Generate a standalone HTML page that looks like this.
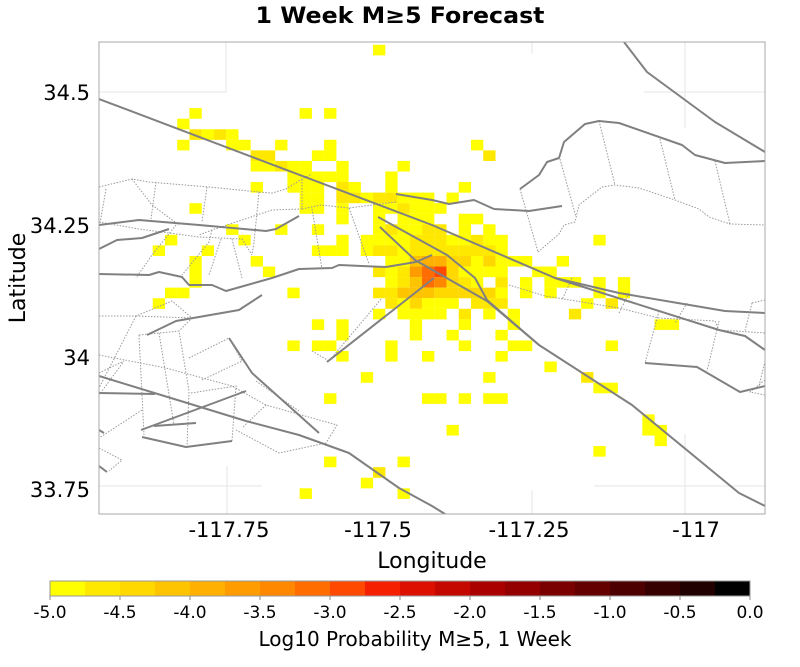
<!DOCTYPE html>
<html><head><meta charset="utf-8"><style>
body{margin:0;background:#fff;}
svg text{font-family:"DejaVu Sans","Liberation Sans",sans-serif;fill:#000;}
</style></head><body>
<svg width="800" height="662" viewBox="0 0 800 662" xmlns="http://www.w3.org/2000/svg">
<defs><clipPath id="pc"><rect x="99" y="42" width="666" height="472"/></clipPath></defs>
<text x="400" y="23" font-size="22" font-weight="bold" text-anchor="middle" textLength="289" lengthAdjust="spacingAndGlyphs">1 Week M≥5 Forecast</text>
<g stroke="#e6e6e6" stroke-width="1">
<line x1="226" y1="42" x2="226" y2="92"/><line x1="99" y1="92" x2="226" y2="92"/>
<line x1="532" y1="42" x2="532" y2="54"/><line x1="685" y1="42" x2="685" y2="128"/><line x1="644" y1="92" x2="765" y2="92"/>
<line x1="227" y1="466" x2="227" y2="514"/><line x1="99" y1="486" x2="262" y2="486"/>
<line x1="685" y1="434" x2="685" y2="514"/><line x1="594" y1="486" x2="765" y2="486"/><line x1="532" y1="490" x2="532" y2="514"/>
</g>
<g id="cells" clip-path="url(#pc)"></g>
<g clip-path="url(#pc)" fill="none">
<g stroke="#999" stroke-width="1" stroke-dasharray="1.5,1.5">
<polyline points="99,187 132,179 149,182 209,187 259,192 272,193 286,189 302,179 312,174"/>
<polyline points="132,179 152,205 179,225"/>
<polyline points="156,182 151,219"/>
<polyline points="207,187 202,222"/>
<polyline points="259,192 254,242 252,255"/>
<polyline points="302,179 302,209 321,205 349,208 396,202"/>
<polyline points="302,209 272,210 212,230 199,235"/>
<polyline points="212,230 209,242 182,275"/>
<polyline points="99,222 139,229 199,237 242,239 252,255"/>
<polyline points="349,208 369,264"/>
<polyline points="312,209 322,269"/>
<polyline points="106,189 99,229"/>
<polyline points="176,225 152,255 136,278"/>
<polyline points="221,239 209,275"/>
<polyline points="232,239 242,278"/>
<polyline points="136,316 192,318"/>
<polyline points="99,316 136,316 172,301 192,318 179,331"/>
<polyline points="136,316 99,388"/>
<polyline points="139,335 179,331 189,391 187,447"/>
<polyline points="139,335 144,435"/>
<polyline points="159,333 174,425"/>
<polyline points="99,355 166,368 232,386 266,405 337,425 326,443 279,453 236,430"/>
<polyline points="189,358 229,338 242,361 202,380"/>
<polyline points="191,393 236,386 232,441"/>
<polyline points="142,410 99,438"/>
<polyline points="99,448 122,460 109,471"/>
<polyline points="99,373 124,361 99,395"/>
<polyline points="312,351 329,361 382,298"/>
<polyline points="256,381 299,411"/>
<polyline points="266,405 242,428"/>
<polyline points="520,189 538,252"/>
<polyline points="560,159 576,217"/>
<polyline points="599,121 615,185"/>
<polyline points="660,139 675,200"/>
<polyline points="715,161 730,224"/>
<polyline points="538,252 559,234 564,225 575,222 579,205 602,187 615,185 639,188 675,200 699,209 709,217 730,224 765,225"/>
<polyline points="509,285 545,296 619,308 659,318 715,321 719,330 765,333"/>
<polyline points="572,278 562,300"/><polyline points="629,293 619,313"/>
<polyline points="659,311 645,363"/><polyline points="687,303 675,323"/>
<polyline points="719,321 707,371"/><polyline points="752,303 765,300"/><polyline points="752,303 745,331"/>
<polyline points="765,361 759,386"/><polyline points="765,380 750,392 765,395"/>
</g>
<g stroke="#808080" stroke-width="2" stroke-linejoin="round">
<polyline points="99,99 432,225 555,278 619,293 725,311 765,313"/>
<polyline points="555,278 719,330 745,336 765,350"/>
<polyline points="396,194 432,200 449,204 474,200 494,209 529,211 562,206"/>
<polyline points="378,217 447,255 475,278 487,300 539,345"/>
<polyline points="380,227 415,260 487,301 539,345 632,405 739,493 765,506"/>
<polyline points="434,278 327,362"/>
<polyline points="624,42 647,72 715,122 765,152"/>
<polyline points="520,189 539,175 547,162 559,158 564,142 585,124 599,121 619,123 682,145 695,155 725,163 765,161"/>
<polyline points="645,363 697,367 740,392 765,386"/>
<polyline points="99,225 139,220 199,225 266,231 276,229 299,216"/>
<polyline points="99,249 117,240 142,238 169,229"/>
<polyline points="99,274 149,275 159,272 182,277 189,285 212,285 226,291 272,278 299,269 332,268 339,265 386,267 416,262 432,255"/>
<polyline points="147,335 176,321 239,310 262,295"/>
<polyline points="229,338 252,373 319,433"/>
<polyline points="141,430 246,391"/>
<polyline points="154,426 196,423"/>
<polyline points="142,437 186,447 232,441"/>
<polyline points="99,393 155,394"/>
<polyline points="99,376 246,421 299,435 349,453 399,488 432,506 445,514"/>
<polyline points="99,430 104,433"/><polyline points="99,466 107,472"/>
</g>
</g>
<rect x="99" y="42" width="666" height="472" fill="none" stroke="#a8a8a8" stroke-width="1"/>
<g font-size="21" text-anchor="end">
<text x="90" y="100">34.5</text><text x="90" y="233">34.25</text><text x="90" y="365">34</text><text x="90" y="497">33.75</text>
</g>
<g font-size="21" text-anchor="middle">
<text x="229" y="537">-117.75</text><text x="378" y="537">-117.5</text><text x="529" y="537">-117.25</text><text x="696" y="537">-117</text>
</g>
<text x="432" y="568" font-size="22" text-anchor="middle">Longitude</text>
<text transform="translate(25,278) rotate(-90)" font-size="22" text-anchor="middle">Latitude</text>
<g id="cb"></g>
<rect x="50" y="581" width="700" height="15" fill="none" stroke="#999" stroke-width="1"/>
<g font-size="17" text-anchor="middle" id="cbl"></g>
<text x="415" y="646" font-size="20" text-anchor="middle">Log10 Probability M≥5, 1 Week</text>
</svg>
<script>
var C={Y:"#ffff00",L:"#ffe800",G:"#ffd800",H:"#ffc400",O:"#ffb000",P:"#ff9c00",Q:"#ff8800",R:"#ff6c00",S:"#ff4800"};
var D={
"-4":"-1Y","2":"-16Y -7Y -5Y","3":"-17Y","4":"-16L -15Y -14L -13Y","5":"-17Y -13Y -12Y -9Y -5Y 7Y",
"6":"-11L -10L -6Y -5Y 8L","7":"-11Y -10Y -9L -8Y -7Y -4Y 1Y","8":"-8Y -7Y -6Y -5Y -4Y 0Y",
"9":"-11Y -8Y -7Y -6Y -4L -3Y 0Y 6Y","10":"-7Y -6Y -4L -3L -2Y -1L 0L 1Y 2Y 3Y 5Y",
"11":"-16Y -7Y -6Y -4Y -1Y 0Y 1L 2Y 3Y 4Y","12":"-4Y -1Y 1Y 2Y 3Y 6Y 7Y",
"13":"-13Y -9Y -6Y -1Y 0L 1Y 2Y 3L 4L 6Y 8Y",
"14":"-18Y -12Y -4Y -2Y -1Y 0Y 1Y 2L 3L 4L 5Y 6Y 7L 8Y 9Y 17Y",
"15":"-19Y -15Y -6Y -5Y -4Y -2Y -1L 0L 1Y 2L 3L 4L 5L 6L 7L 8L 9Y",
"16":"-16Y -11Y 0Y 1Y 2H 3O 4O 5G 6G 7Y 8G 9Y 10Y 11Y 14Y",
"17":"-16Y -10Y -1L 0Y 1L 2P 3R 4S 5G 6Y 7Y 8Y 9Y 12Y 13Y",
"18":"-16Y 0Y 1L 2H 3R 4Q 5G 6L 7Y 9L 11Y 13Y 14Y 15Y 17Y 19Y",
"19":"-18Y -17Y -8Y -1L 0L 1H 2H 3H 4G 5G 6G 7G 8G 9Y 11Y 13Y 17Y 19Y",
"20":"-19Y 0L 1Y 2G 3Y 4Y 5Y 7L 8L 9L 16Y 18L","21":"-1Y 1Y 2Y 3Y 4Y 6L 8Y 10Y 15L",
"22":"-6Y -4Y 2Y 6Y 10Y 22Y 23Y","23":"-4Y 2Y 5Y 9Y","24":"-8Y -6Y -5Y 0Y 6Y 10Y 11Y 18Y",
"25":"-4Y 0Y 3Y 9Y","26":"13Y","27":"-2Y 8Y 16L","28":"17Y 18Y","29":"-5Y 3Y 4Y 6Y 8Y 9Y",
"31":"21Y","32":"5Y 21Y 22Y","33":"22Y","34":"17Y","35":"-5Y 1Y","36":"-1L","37":"-2Y","38":"-7Y 1Y"};
var g=document.getElementById("cells"),h="";
for(var r in D){D[r].split(" ").forEach(function(t){var c=parseInt(t),col=C[t.slice(-1)];
h+='<rect x="'+(385.3+12.24*c).toFixed(2)+'" y="'+(87+10.56*r).toFixed(2)+'" width="12.3" height="10.62" fill="'+col+'"/>';});}
g.innerHTML=h;
var cb=["#ffff00","#ffe800","#ffd800","#ffc400","#ffb000","#ff9c00","#ff8800","#ff6c00","#ff4800","#f52000","#dd1000","#c40800","#aa0000","#940000","#7a0000","#640000","#4c0000","#360000","#200000","#000000"];
var s="";for(var i=0;i<20;i++)s+='<rect x="'+(50+35*i)+'" y="581" width="35.5" height="15" fill="'+cb[i]+'"/>';
for(var i=0;i<=10;i++)s+='<line x1="'+(50+70*i)+'" y1="596" x2="'+(50+70*i)+'" y2="600" stroke="#888"/>';
document.getElementById("cb").innerHTML=s;
var l="";for(var i=0;i<=10;i++)l+='<text x="'+(50+70*i)+'" y="618">'+(-5+0.5*i).toFixed(1)+'</text>';
document.getElementById("cbl").innerHTML=l;
</script>
</body></html>
